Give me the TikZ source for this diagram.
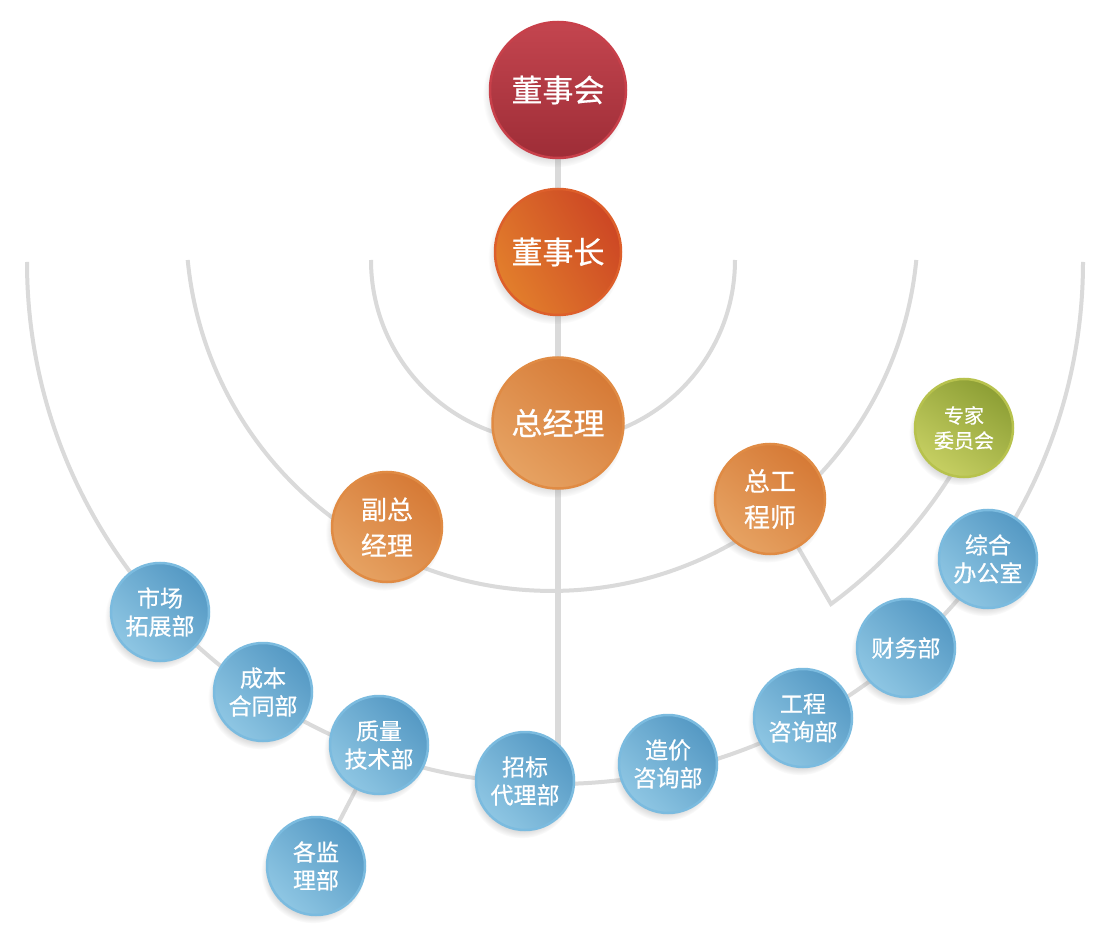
\documentclass[tikz,border=0pt]{standalone}
\usepackage{fontspec}
\newfontfamily\cjk[FakeBold=0.5]{Noto Sans CJK SC}
\usetikzlibrary{shadows}
\pgfdeclarelayer{back}
\pgfsetlayers{back,main}
\definecolor{linegray}{HTML}{DADADA}
\definecolor{redtop}{HTML}{C4454F}
\definecolor{redbot}{HTML}{9E2D37}
\definecolor{redrim}{HTML}{C8404A}
\definecolor{rotop}{HTML}{CD4724}
\definecolor{robot}{HTML}{E27E2C}
\definecolor{rorim}{HTML}{DD5F2B}
\definecolor{ortop}{HTML}{D67A36}
\definecolor{ormid}{HTML}{D88039}
\definecolor{orbot}{HTML}{E6A262}
\definecolor{orrim}{HTML}{E08B44}
\definecolor{grtop}{HTML}{8D9F35}
\definecolor{grmid}{HTML}{9DAE3E}
\definecolor{grbot}{HTML}{C6CF62}
\definecolor{grrim}{HTML}{B7C24D}
\definecolor{bltop}{HTML}{5599C4}
\definecolor{blmid}{HTML}{63A5CD}
\definecolor{blbot}{HTML}{8EC6E3}
\definecolor{blrim}{HTML}{7BBBDF}
\tikzset{
  ball/.style={circle, inner sep=0pt, text=white, align=center, line width=2.5pt,
    circular drop shadow={shadow xshift=-3pt, shadow yshift=-5pt, shadow scale=1.06, opacity=0.28}},
  redball/.style={ball, draw=redrim, top color=redtop, bottom color=redbot, minimum size=136pt,
    font=\cjk\fontsize{31}{36}\selectfont},
  roball/.style={ball, draw=rorim, top color=rotop, bottom color=robot, shading angle=-60, minimum size=126pt,
    font=\cjk\fontsize{31}{36}\selectfont},
  orball/.style={ball, draw=orrim, top color=ortop, middle color=ormid, bottom color=orbot, shading angle=-40},
  bigor/.style={orball, minimum size=131pt, font=\cjk\fontsize{31}{36}\selectfont},
  midor/.style={orball, minimum size=110pt, font=\cjk\fontsize{26}{36}\selectfont},
  grball/.style={ball, draw=grrim, top color=grtop, middle color=grmid, bottom color=grbot, shading angle=-35, minimum size=98pt,
    font=\cjk\fontsize{20}{25}\selectfont},
  blball/.style={ball, draw=blrim, top color=bltop, middle color=blmid, bottom color=blbot, shading angle=-45, minimum size=98pt,
    font=\cjk\fontsize{23}{28}\selectfont},
  link/.style={draw=linegray, line width=4pt},
  vline/.style={draw=linegray, line width=6pt}
}
\begin{document}
\begin{tikzpicture}[x=1pt, y=-1pt]
\useasboundingbox (0,0) rectangle (1104,941);

\node[redball] (dsh) at (558,90) {董事会};
\node[roball] (dsz) at (558,252) {董事长};
\node[bigor] (zjl) at (558,423) {总经理};
\node[midor] (fzjl) at (387,527) {副总\\经理};
\node[midor] (zgcs) at (770,499) {总工\\程师};
\node[grball] (zj) at (964,428) {专家\\委员会};
\node[blball] (m1) at (160,612) {市场\\拓展部};
\node[blball] (m2) at (263,692) {成本\\合同部};
\node[blball] (m3) at (379,745) {质量\\技术部};
\node[blball] (m4) at (525,781) {招标\\代理部};
\node[blball] (m5) at (668,764) {造价\\咨询部};
\node[blball] (m6) at (803,718) {工程\\咨询部};
\node[blball] (m7) at (906,648) {财务部};
\node[blball] (m8) at (988,559) {综合\\办公室};
\node[blball] (m9) at (316,866) {各监\\理部};

\coordinate (a1) at (371,260);
\coordinate (b1) at (187.7,260);
\coordinate (c1) at (27,262);
\coordinate (v) at (831,604);

\begin{pgfonlayer}{back}
  \fill[white] (0,0) rectangle (1104,941);
  \draw[vline] (dsh.center) -- (dsh.center |- m4.center);
  \draw[link] (a1) arc[start angle=180, end angle=0, radius=182];
  \draw[link] (b1) arc[start angle=174.5, end angle=5.5, radius=366];
  \draw[link] (c1) arc[start angle=180, end angle=0, x radius=528, y radius=522];
  \draw[link] (zgcs) -- (v) arc[start angle=53.7, end angle=28, radius=470];
  \draw[link] (m3) -- (m9);
\end{pgfonlayer}
\end{tikzpicture}
\end{document}
